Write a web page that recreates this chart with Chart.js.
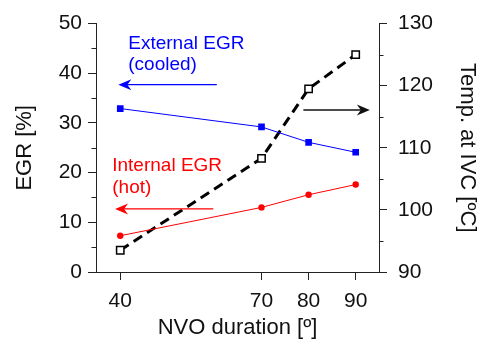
<!DOCTYPE html>
<html>
<head>
<meta charset="utf-8">
<script src="https://cdn.jsdelivr.net/npm/chart.js@4.4.0/dist/chart.umd.min.js"></script>
<style>
html, body { margin: 0; padding: 0; background: #fff; }
#wrap { width: 485px; height: 344px; }
</style>
</head>
<body>
<div id="wrap"><canvas id="chart"></canvas></div>
<script>
"use strict";

// data
var nvoDuration = [40, 70, 80, 90];
var xTicks = [40, 70, 80, 90];
var externalEgr = [32.9, 29.2, 26.1, 24.1];
var internalEgr = [7.3, 13.0, 15.55, 17.6];
var tempIvc = [93.5, 108.3, 119.5, 125.0];

var FONT = "'Liberation Sans', Arial, sans-serif";

function pairs(ys) {
    return nvoDuration.map(function (x, i) { return { x: x, y: ys[i] }; });
}

// minor ticks (every 5 units) on both y axes
var minorTicks = {
    id: 'minorTicks',
    afterDraw: function (chart) {
        var ctx = chart.ctx;
        ctx.save();
        ctx.strokeStyle = '#222';
        ctx.lineWidth = 1;
        var yl = chart.scales.y, yr = chart.scales.y2;
        var v, p;
        for (v = 5; v < 50; v += 10) {
            p = Math.round(yl.getPixelForValue(v)) + 0.5;
            ctx.beginPath(); ctx.moveTo(yl.right - 4.5, p); ctx.lineTo(yl.right, p); ctx.stroke();
        }
        for (v = 95; v < 130; v += 10) {
            p = Math.round(yr.getPixelForValue(v)) + 0.5;
            ctx.beginPath(); ctx.moveTo(yr.left, p); ctx.lineTo(yr.left + 4.5, p); ctx.stroke();
        }
        ctx.restore();
    }
};

function arrow(ctx, x1, y, x2, color, lw) {
    var dir = x2 > x1 ? 1 : -1;
    ctx.strokeStyle = color;
    ctx.fillStyle = color;
    ctx.lineWidth = lw;
    ctx.beginPath();
    ctx.moveTo(x1, y);
    ctx.lineTo(x2 - dir * 6, y);
    ctx.stroke();
    ctx.beginPath();
    ctx.moveTo(x2, y);
    ctx.lineTo(x2 - dir * 13, y - 5.5);
    ctx.lineTo(x2 - dir * 9, y);
    ctx.lineTo(x2 - dir * 13, y + 5.5);
    ctx.closePath();
    ctx.fill();
}

// text labels and arrows, placed in data units
var notes = {
    id: 'notes',
    afterDatasetsDraw: function (chart) {
        var ctx = chart.ctx;
        var x = chart.scales.x, y = chart.scales.y;
        ctx.save();
        ctx.font = '19px ' + FONT;
        ctx.textAlign = 'left';
        ctx.textBaseline = 'alphabetic';

        ctx.fillStyle = '#0000ff';
        ctx.fillText('External EGR', x.getPixelForValue(41.7), y.getPixelForValue(44.9));
        ctx.fillText('(cooled)', x.getPixelForValue(41.7), y.getPixelForValue(40.6));
        arrow(ctx, x.getPixelForValue(60.5), y.getPixelForValue(37.7), x.getPixelForValue(39.6), '#0000ff', 1.2);

        ctx.fillStyle = '#ff0000';
        ctx.fillText('Internal EGR', x.getPixelForValue(38.3), y.getPixelForValue(20.3));
        ctx.fillText('(hot)', x.getPixelForValue(38.3), y.getPixelForValue(16.0));
        arrow(ctx, x.getPixelForValue(59.75), y.getPixelForValue(12.7), x.getPixelForValue(38.9), '#ff0000', 1.2);

        arrow(ctx, x.getPixelForValue(78.9), y.getPixelForValue(32.6), x.getPixelForValue(93.0), '#111', 1.5);
        ctx.restore();
    }
};

var ctx = document.getElementById('chart');
var chart = new Chart(ctx, {
    type: 'line',
    data: {
        datasets: [{
            label: 'Temp. at IVC',
            data: pairs(tempIvc),
            yAxisID: 'y2',
            borderColor: '#000',
            borderWidth: 3,
            borderDash: [10, 6],
            pointStyle: 'rect',
            pointRadius: 5.2,
            pointBorderWidth: 1.5,
            pointBorderColor: '#000',
            pointBackgroundColor: '#fff',
            order: 3
        }, {
            label: 'External EGR',
            data: pairs(externalEgr),
            yAxisID: 'y',
            borderColor: '#0000ff',
            borderWidth: 1,
            pointStyle: 'rect',
            pointRadius: 4.7,
            pointBorderWidth: 0,
            pointBackgroundColor: '#0000ff',
            order: 2
        }, {
            label: 'Internal EGR',
            data: pairs(internalEgr),
            yAxisID: 'y',
            borderColor: '#ff0000',
            borderWidth: 1,
            pointStyle: 'circle',
            pointRadius: 3.2,
            pointBorderWidth: 0,
            pointBackgroundColor: '#ff0000',
            order: 1
        }]
    },
    options: {
        responsive: true,
        maintainAspectRatio: false,
        animation: false,
        layout: { padding: { top: 18, left: 0, right: 0, bottom: 0 } },
        plugins: {
            legend: { display: false },
            tooltip: { enabled: false }
        },
        scales: {
            x: {
                type: 'linear',
                min: 34.85,
                max: 94.95,
                afterBuildTicks: function (s) {
                    s.ticks = xTicks.map(function (v) { return { value: v }; });
                },
                afterFit: function (s) { s.height = 72; },
                grid: { drawOnChartArea: false, tickLength: 8, tickColor: '#222' },
                border: { color: '#222', width: 1 },
                ticks: { color: '#111', padding: 9, maxRotation: 0, font: { family: FONT, size: 21 } },
                title: {
                    display: true,
                    text: 'NVO duration [º]',
                    color: '#111',
                    padding: 3,
                    font: { family: FONT, size: 22 }
                }
            },
            y: {
                position: 'left',
                min: 0,
                max: 50,
                ticks: { stepSize: 10, color: '#111', padding: 6, font: { family: FONT, size: 21 } },
                afterFit: function (s) { s.width = 96; },
                grid: { drawOnChartArea: false, tickLength: 8, tickColor: '#222' },
                border: { color: '#222', width: 1 },
                title: {
                    display: true,
                    text: 'EGR [%]',
                    color: '#111',
                    padding: 12,
                    font: { family: FONT, size: 22 }
                }
            },
            y2: {
                position: 'right',
                min: 90,
                max: 130,
                ticks: { stepSize: 10, color: '#111', padding: 11, font: { family: FONT, size: 21 } },
                afterFit: function (s) { s.width = 106; },
                grid: { drawOnChartArea: false, tickLength: 8, tickColor: '#222' },
                border: { color: '#222', width: 1 },
                title: {
                    display: true,
                    text: 'Temp. at IVC [ºC]',
                    color: '#111',
                    padding: 5,
                    font: { family: FONT, size: 22 }
                }
            }
        }
    },
    plugins: [minorTicks, notes]
});
</script>
</body>
</html>
